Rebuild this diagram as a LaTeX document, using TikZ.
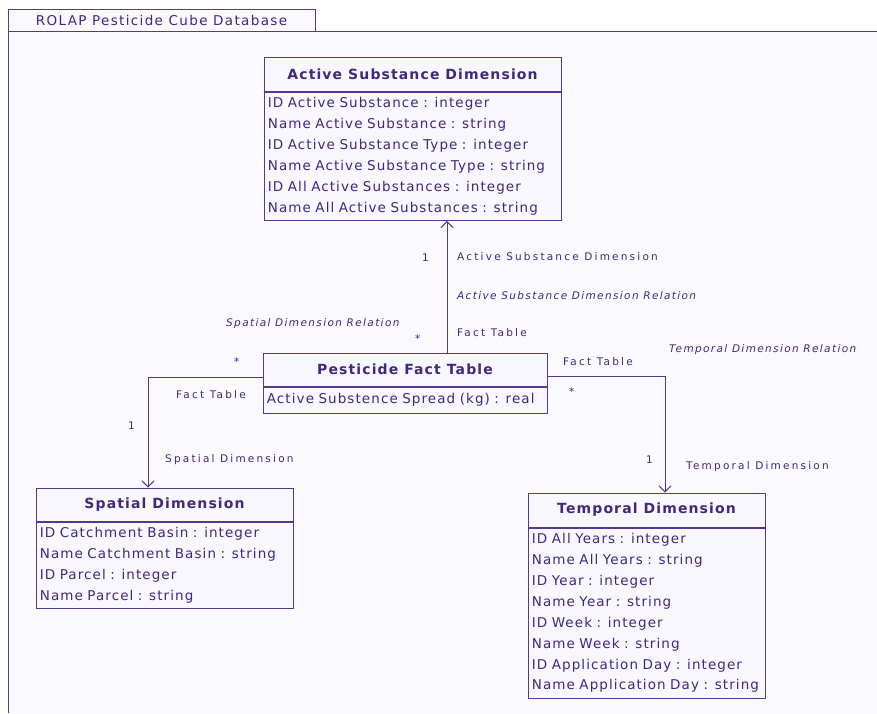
\documentclass[tikz,border=0pt]{standalone}
\usepackage{fontspec}
\setmainfont{DejaVu Sans}[LetterSpace=8]
\newfontfamily\lblfont{DejaVu Sans}[LetterSpace=21]
\newfontfamily\relfont{DejaVu Sans}[LetterSpace=13]
\newfontfamily\titlefont{DejaVu Sans}[LetterSpace=10]
\usetikzlibrary{arrows.meta}
\definecolor{umlline}{RGB}{85,55,150}
\definecolor{umltext}{RGB}{65,40,125}
\definecolor{umlback}{RGB}{250,249,253}
\definecolor{umlbox}{RGB}{247,247,253}
\begin{document}
\begin{tikzpicture}[x=1pt,y=-1pt,
    head/.style={draw=umlline,fill=umlbox,text=umltext,line width=1pt,
      font=\fontsize{14}{16}\selectfont\bfseries,inner sep=0pt},
    attr/.style={draw=umlline,fill=umlbox,text=umltext,line width=0.8pt,anchor=north west,
      font=\fontsize{13.5}{20.9}\selectfont,align=left,inner xsep=4pt,inner ysep=5.5pt},
    lbl/.style={text=umltext,font=\lblfont\fontsize{10.5}{12}\selectfont,anchor=west,inner sep=0pt},
    rel/.style={lbl,font=\relfont\fontsize{10.5}{12}\selectfont\itshape},
    conn/.style={draw=umlline,line width=1pt,-{Straight Barb[length=6pt,width=12pt,line width=1pt]}}]
  \useasboundingbox (0,0) rectangle (877,713);
  \fill[white] (0,0) rectangle (877,713);
  \fill[umlback] (8,31) rectangle (877,713);
  \draw[umlline,line width=1pt] (8,713) -- (8,31) -- (877,31);
  \node[draw=umlline,line width=1pt,fill=umlback,text=umltext,minimum width=307,minimum height=22,
    inner sep=0pt,font=\titlefont\fontsize{13.5}{15}\selectfont] (title) at (161.5,20) {ROLAP Pesticide Cube Database};

  \node[head,minimum width=297,minimum height=34] (asdhead) at (412.5,74) {Active Substance Dimension};
  \node[attr,text width=289] (asdattr) at (asdhead.south west) {ID Active Substance : integer\\Name Active Substance : string\\ID Active Substance Type : integer\\Name Active Substance Type : string\\ID All Active Substances : integer\\Name All Active Substances : string};

  \node[head,minimum width=284,minimum height=33] (facthead) at (405,369.5) {Pesticide Fact Table};
  \node[attr,text width=276,inner ysep=6.5pt] (factattr) at (facthead.south west) {Active Substence Spread (kg) : real};

  \node[head,minimum width=257,minimum height=33] (spathead) at (164.5,504.5) {Spatial Dimension};
  \node[attr,text width=249] (spatattr) at (spathead.south west) {ID Catchment Basin : integer\\Name Catchment Basin : string\\ID Parcel : integer\\Name Parcel : string};

  \node[head,minimum width=237,minimum height=34] (temphead) at (646.5,510) {Temporal Dimension};
  \node[attr,text width=229] (tempattr) at (temphead.south west) {ID All Years : integer\\Name All Years : string\\ID Year : integer\\Name Year : string\\ID Week : integer\\Name Week : string\\ID Application Day : integer\\Name Application Day : string};

  \draw[conn] ([xshift=42pt]facthead.north) -- ([xshift=42pt]facthead.north |- asdattr.south);
  \draw[conn] ([yshift=-7.5pt]facthead.west) -| ([xshift=-16.5pt]spathead.north);
  \draw[conn] ([yshift=-7pt]facthead.east) -| ([xshift=18.5pt]temphead.north);

  \node[lbl] (asdone) at (422,258) {1};
  \node[lbl] (asdrole) at (457,257) {Active Substance Dimension};
  \node[rel] (asdrel) at (457,296) {Active Substance Dimension Relation};
  \node[lbl] (asdmany) at (415,339) {*};
  \node[lbl] (asdfact) at (457,333) {Fact Table};

  \node[rel] (spatrel) at (226,324) {Spatial Dimension Relation};
  \node[lbl] (spatmany) at (234,362) {*};
  \node[lbl] (spatfact) at (176,395) {Fact Table};
  \node[lbl] (spatone) at (128,426) {1};
  \node[lbl] (spatrole) at (165,460) {Spatial Dimension};

  \node[lbl] (tempfact) at (563,362) {Fact Table};
  \node[lbl] (tempmany) at (569,392) {*};
  \node[rel] (temprel) at (669,350) {Temporal Dimension Relation};
  \node[lbl] (tempone) at (646,460) {1};
  \node[lbl] (temprole) at (686,467) {Temporal Dimension};
\end{tikzpicture}
\end{document}
